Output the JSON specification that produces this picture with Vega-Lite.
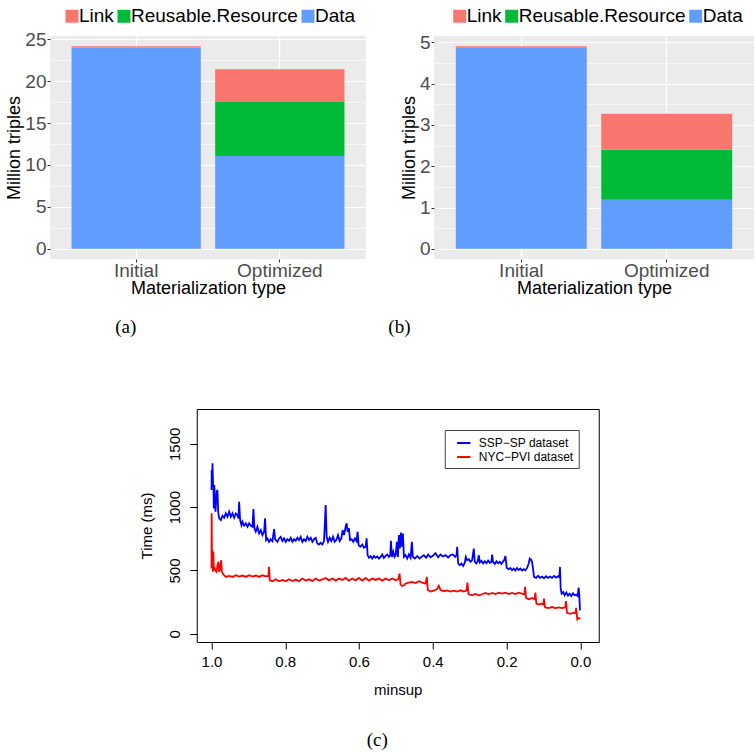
{
  "$schema": "https://vega.github.io/schema/vega-lite/v6.json",
  "padding": {"left": 5, "top": 6, "right": 0, "bottom": 0},
  "background": "white",
  "config": {
    "font": "Liberation Sans",
    "view": {"stroke": null},
    "axis": {"labelFont": "Liberation Sans", "titleFont": "Liberation Sans", "titleFontWeight": "normal"},
    "legend": {"labelFont": "Liberation Sans", "labelLimit": 400}
  },
  "title": {"text": "(c)", "orient": "bottom", "anchor": "middle", "frame": "bounds", "offset": 33, "dx": -2.7, "fontSize": 19, "font": "Liberation Serif", "fontWeight": "normal", "color": "black"},
  "spacing": 71,
  "center": true,
  "resolve": {"scale": {"color": "independent"}, "legend": {"color": "independent"}},
  "vconcat": [
    {
      "spacing": 22,
      "resolve": {"scale": {"color": "independent"}, "legend": {"color": "independent"}},
      "hconcat": [
        {
          "width": 316,
          "height": 223,
          "title": {"text": "(a)", "orient": "bottom", "anchor": "middle", "frame": "group", "dx": -82.3, "offset": 21, "fontSize": 19, "font": "Liberation Serif", "fontWeight": "normal", "color": "black"},
          "view": {"fill": "#EBEBEB", "stroke": null},
          "data": {"values": [
            {"type": "Initial", "category": "Data", "value": 24.0, "rank": 1},
            {"type": "Initial", "category": "Link", "value": 0.16, "rank": 3},
            {"type": "Optimized", "category": "Data", "value": 11.06, "rank": 1},
            {"type": "Optimized", "category": "Reusable.Resource", "value": 6.44, "rank": 2},
            {"type": "Optimized", "category": "Link", "value": 3.9, "rank": 3}
          ]},
          "encoding": {
            "x": {"field": "type", "type": "nominal", "sort": ["Initial", "Optimized"],
              "scale": {"paddingInner": 0.1, "paddingOuter": 0.15},
              "axis": {"grid": true, "gridColor": "white", "gridWidth": 1.2, "bandPosition": 0.5, "labelAngle": 0, "labelFontSize": 19, "labelColor": "#4D4D4D", "tickColor": "#333333", "tickSize": 3, "domain": false, "labelPadding": -1, "title": "Materialization type", "titleFontSize": 18, "titleColor": "black", "titlePadding": -1}}
          },
          "layer": [
            {
              "mark": {"type": "bar", "opacity": 0},
              "encoding": {
                "y": {"field": "value", "type": "quantitative", "stack": "zero",
                  "scale": {"domain": [-1.21, 25.37], "nice": false, "zero": false},
                  "axis": {"orient": "right", "values": [2.5, 7.5, 12.5, 17.5, 22.5], "grid": true, "gridColor": "white", "gridWidth": 0.6, "labels": false, "ticks": false, "domain": false, "title": null, "minExtent": 0, "maxExtent": 0, "offset": 0}}
              }
            },
            {
              "mark": {"type": "bar"},
              "encoding": {
                "y": {"field": "value", "type": "quantitative", "stack": "zero",
                  "scale": {"domain": [-1.21, 25.37], "nice": false, "zero": false},
                  "axis": {"orient": "left", "values": [0, 5, 10, 15, 20, 25], "grid": true, "gridColor": "white", "gridWidth": 1.2, "labelFontSize": 19, "labelColor": "#4D4D4D", "tickColor": "#333333", "tickSize": 3, "domain": false, "labelPadding": 1, "title": "Million triples", "titleFontSize": 18, "titleColor": "black", "titlePadding": 1}},
                "color": {"field": "category", "type": "nominal",
                  "scale": {"domain": ["Link", "Reusable.Resource", "Data"], "range": ["#F8766D", "#00BA38", "#619CFF"]},
                  "legend": {"orient": "none", "legendX": 12.5, "legendY": -29.5, "direction": "horizontal", "title": null, "symbolType": "square", "symbolSize": 169, "symbolStrokeWidth": 0, "labelFontSize": 19, "labelColor": "black", "labelOffset": -2.5, "columnPadding": -1.5, "padding": 0, "labelLimit": 400}},
                "order": {"field": "rank", "type": "quantitative"}
              }
            }
          ],
          "resolve": {"axis": {"y": "independent"}}
        },
        {
          "width": 320,
          "height": 223,
          "title": {"text": "(b)", "orient": "bottom", "anchor": "middle", "frame": "group", "dx": -194.6, "offset": 21, "fontSize": 19, "font": "Liberation Serif", "fontWeight": "normal", "color": "black"},
          "view": {"fill": "#EBEBEB", "stroke": null},
          "data": {"values": [
            {"type": "Initial", "category": "Data", "value": 4.875, "rank": 1},
            {"type": "Initial", "category": "Link", "value": 0.03, "rank": 3},
            {"type": "Optimized", "category": "Data", "value": 1.19, "rank": 1},
            {"type": "Optimized", "category": "Reusable.Resource", "value": 1.21, "rank": 2},
            {"type": "Optimized", "category": "Link", "value": 0.87, "rank": 3}
          ]},
          "encoding": {
            "x": {"field": "type", "type": "nominal", "sort": ["Initial", "Optimized"],
              "scale": {"paddingInner": 0.1, "paddingOuter": 0.15},
              "axis": {"grid": true, "gridColor": "white", "gridWidth": 1.2, "bandPosition": 0.5, "labelAngle": 0, "labelFontSize": 19, "labelColor": "#4D4D4D", "tickColor": "#333333", "tickSize": 3, "domain": false, "labelPadding": -1, "title": "Materialization type", "titleFontSize": 18, "titleColor": "black", "titlePadding": -1}}
          },
          "layer": [
            {
              "mark": {"type": "bar", "opacity": 0},
              "encoding": {
                "y": {"field": "value", "type": "quantitative", "stack": "zero",
                  "scale": {"domain": [-0.245, 5.15], "nice": false, "zero": false},
                  "axis": {"orient": "right", "values": [0.5, 1.5, 2.5, 3.5, 4.5], "grid": true, "gridColor": "white", "gridWidth": 0.6, "labels": false, "ticks": false, "domain": false, "title": null, "minExtent": 0, "maxExtent": 0, "offset": 0}}
              }
            },
            {
              "mark": {"type": "bar"},
              "encoding": {
                "y": {"field": "value", "type": "quantitative", "stack": "zero",
                  "scale": {"domain": [-0.245, 5.15], "nice": false, "zero": false},
                  "axis": {"orient": "left", "values": [0, 1, 2, 3, 4, 5], "grid": true, "gridColor": "white", "gridWidth": 1.2, "labelFontSize": 19, "labelColor": "#4D4D4D", "tickColor": "#333333", "tickSize": 3, "domain": false, "labelPadding": 1, "title": "Million triples", "titleFontSize": 18, "titleColor": "black", "titlePadding": 1}},
                "color": {"field": "category", "type": "nominal",
                  "scale": {"domain": ["Link", "Reusable.Resource", "Data"], "range": ["#F8766D", "#00BA38", "#619CFF"]},
                  "legend": {"orient": "none", "legendX": 16.2, "legendY": -29.5, "direction": "horizontal", "title": null, "symbolType": "square", "symbolSize": 169, "symbolStrokeWidth": 0, "labelFontSize": 19, "labelColor": "black", "labelOffset": -2.5, "columnPadding": -1.5, "padding": 0, "labelLimit": 400}},
                "order": {"field": "rank", "type": "quantitative"}
              }
            }
          ],
          "resolve": {"axis": {"y": "independent"}}
        }
      ]
    },
    {
      "width": 402,
      "height": 233,
      "title": {"text": "\u00a0", "orient": "right", "offset": 2, "fontSize": 6, "frame": "group", "anchor": "middle"},
      "view": {"fill": "white", "stroke": "black", "strokeWidth": 1},
      "encoding": {
        "x": {"field": "minsup", "type": "quantitative",
          "scale": {"domain": [-0.05, 1.04], "reverse": true, "nice": false, "zero": false},
          "axis": {"values": [0, 0.2, 0.4, 0.6, 0.8, 1.0], "format": ".1f", "labelFontSize": 15, "labelColor": "black", "labelFlush": false, "tickColor": "black", "tickSize": 7, "domain": false, "grid": false, "labelPadding": 5, "title": "minsup", "titleFontSize": 15, "titleColor": "black", "titlePadding": 13}},
        "y": {"field": "time", "type": "quantitative",
          "scale": {"domain": [-65, 1775], "nice": false, "zero": false},
          "axis": {"values": [0, 500, 1000, 1500], "format": "d", "labelAngle": 270, "labelAlign": "center", "labelBaseline": "alphabetic", "labelFontSize": 15, "labelColor": "black", "labelFlush": false, "tickColor": "black", "tickSize": 7, "domain": false, "grid": false, "labelPadding": 10, "title": "Time (ms)", "titleFontSize": 15, "titleColor": "black", "titlePadding": 13}}
      },
      "layer": [
        {
          "data": {"values": [
            {"minsup": 1.0, "time": 1136}, {"minsup": 0.9995, "time": 1294}, {"minsup": 0.9986, "time": 1175}, {"minsup": 0.9973, "time": 1347},
            {"minsup": 0.9959, "time": 1188}, {"minsup": 0.9946, "time": 1149}, {"minsup": 0.9937, "time": 990}, {"minsup": 0.9923, "time": 1175},
            {"minsup": 0.991, "time": 1096}, {"minsup": 0.9892, "time": 964}, {"minsup": 0.9856, "time": 1122}, {"minsup": 0.9838, "time": 1136},
            {"minsup": 0.9819, "time": 964}, {"minsup": 0.9792, "time": 911}, {"minsup": 0.9747, "time": 898}, {"minsup": 0.9702, "time": 932},
            {"minsup": 0.9657, "time": 916}, {"minsup": 0.9612, "time": 951}, {"minsup": 0.9567, "time": 924}, {"minsup": 0.9522, "time": 964},
            {"minsup": 0.9477, "time": 924}, {"minsup": 0.9431, "time": 951}, {"minsup": 0.9386, "time": 916}, {"minsup": 0.9341, "time": 951},
            {"minsup": 0.9296, "time": 937}, {"minsup": 0.9269, "time": 911}, {"minsup": 0.9251, "time": 1043}, {"minsup": 0.9224, "time": 898},
            {"minsup": 0.9188, "time": 858}, {"minsup": 0.9161, "time": 885}, {"minsup": 0.9116, "time": 853}, {"minsup": 0.907, "time": 872},
            {"minsup": 0.9025, "time": 845}, {"minsup": 0.898, "time": 872}, {"minsup": 0.8935, "time": 853}, {"minsup": 0.889, "time": 845},
            {"minsup": 0.8863, "time": 985}, {"minsup": 0.8836, "time": 832}, {"minsup": 0.88, "time": 806}, {"minsup": 0.8755, "time": 845},
            {"minsup": 0.8709, "time": 792}, {"minsup": 0.8664, "time": 819}, {"minsup": 0.8619, "time": 779}, {"minsup": 0.8574, "time": 806},
            {"minsup": 0.8547, "time": 911}, {"minsup": 0.852, "time": 740}, {"minsup": 0.8484, "time": 753}, {"minsup": 0.8439, "time": 726},
            {"minsup": 0.8394, "time": 747}, {"minsup": 0.8348, "time": 732}, {"minsup": 0.8303, "time": 827}, {"minsup": 0.8276, "time": 747},
            {"minsup": 0.8213, "time": 726}, {"minsup": 0.8168, "time": 753}, {"minsup": 0.8123, "time": 766}, {"minsup": 0.8078, "time": 732},
            {"minsup": 0.8032, "time": 753}, {"minsup": 0.7987, "time": 726}, {"minsup": 0.7942, "time": 747}, {"minsup": 0.7897, "time": 734},
            {"minsup": 0.7852, "time": 758}, {"minsup": 0.7807, "time": 726}, {"minsup": 0.7762, "time": 747}, {"minsup": 0.7717, "time": 734},
            {"minsup": 0.7671, "time": 758}, {"minsup": 0.7626, "time": 740}, {"minsup": 0.7581, "time": 766}, {"minsup": 0.7536, "time": 726},
            {"minsup": 0.7491, "time": 747}, {"minsup": 0.7446, "time": 732}, {"minsup": 0.7401, "time": 766}, {"minsup": 0.7356, "time": 740},
            {"minsup": 0.731, "time": 758}, {"minsup": 0.7265, "time": 726}, {"minsup": 0.722, "time": 747}, {"minsup": 0.7175, "time": 758},
            {"minsup": 0.713, "time": 713}, {"minsup": 0.7085, "time": 705}, {"minsup": 0.704, "time": 718}, {"minsup": 0.6995, "time": 705},
            {"minsup": 0.6949, "time": 732}, {"minsup": 0.6904, "time": 1017}, {"minsup": 0.6877, "time": 766}, {"minsup": 0.6841, "time": 726},
            {"minsup": 0.6796, "time": 758}, {"minsup": 0.6751, "time": 732}, {"minsup": 0.6706, "time": 766}, {"minsup": 0.6661, "time": 726},
            {"minsup": 0.6616, "time": 740}, {"minsup": 0.657, "time": 779}, {"minsup": 0.6525, "time": 732}, {"minsup": 0.648, "time": 753},
            {"minsup": 0.6444, "time": 819}, {"minsup": 0.6408, "time": 779}, {"minsup": 0.6363, "time": 845}, {"minsup": 0.6336, "time": 872},
            {"minsup": 0.6309, "time": 806}, {"minsup": 0.6273, "time": 832}, {"minsup": 0.6245, "time": 740}, {"minsup": 0.62, "time": 747},
            {"minsup": 0.6155, "time": 726}, {"minsup": 0.611, "time": 753}, {"minsup": 0.6065, "time": 732}, {"minsup": 0.6038, "time": 806},
            {"minsup": 0.6011, "time": 700}, {"minsup": 0.5966, "time": 687}, {"minsup": 0.5912, "time": 705}, {"minsup": 0.5866, "time": 679},
            {"minsup": 0.5821, "time": 687}, {"minsup": 0.5794, "time": 753}, {"minsup": 0.5767, "time": 621}, {"minsup": 0.5731, "time": 600},
            {"minsup": 0.5686, "time": 613}, {"minsup": 0.5641, "time": 594}, {"minsup": 0.5596, "time": 615}, {"minsup": 0.555, "time": 600},
            {"minsup": 0.5505, "time": 610}, {"minsup": 0.546, "time": 594}, {"minsup": 0.5415, "time": 607}, {"minsup": 0.537, "time": 626},
            {"minsup": 0.5325, "time": 600}, {"minsup": 0.528, "time": 615}, {"minsup": 0.5235, "time": 626}, {"minsup": 0.519, "time": 607},
            {"minsup": 0.5153, "time": 621}, {"minsup": 0.5135, "time": 734}, {"minsup": 0.5108, "time": 607}, {"minsup": 0.5072, "time": 647},
            {"minsup": 0.5036, "time": 607}, {"minsup": 0.5009, "time": 621}, {"minsup": 0.4973, "time": 726}, {"minsup": 0.4946, "time": 607},
            {"minsup": 0.4919, "time": 779}, {"minsup": 0.4892, "time": 673}, {"minsup": 0.4865, "time": 800}, {"minsup": 0.4838, "time": 687},
            {"minsup": 0.481, "time": 792}, {"minsup": 0.4783, "time": 607}, {"minsup": 0.4738, "time": 621}, {"minsup": 0.4693, "time": 594},
            {"minsup": 0.4648, "time": 626}, {"minsup": 0.4603, "time": 600}, {"minsup": 0.4567, "time": 726}, {"minsup": 0.454, "time": 607},
            {"minsup": 0.4486, "time": 594}, {"minsup": 0.4422, "time": 613}, {"minsup": 0.4359, "time": 594}, {"minsup": 0.4305, "time": 607},
            {"minsup": 0.4242, "time": 621}, {"minsup": 0.4179, "time": 600}, {"minsup": 0.4125, "time": 626}, {"minsup": 0.4061, "time": 604},
            {"minsup": 0.3998, "time": 615}, {"minsup": 0.3926, "time": 636}, {"minsup": 0.3854, "time": 604}, {"minsup": 0.3791, "time": 626},
            {"minsup": 0.3727, "time": 610}, {"minsup": 0.3655, "time": 621}, {"minsup": 0.3583, "time": 602}, {"minsup": 0.352, "time": 621},
            {"minsup": 0.3457, "time": 626}, {"minsup": 0.3394, "time": 607}, {"minsup": 0.3357, "time": 621}, {"minsup": 0.3339, "time": 687},
            {"minsup": 0.3312, "time": 555}, {"minsup": 0.3267, "time": 541}, {"minsup": 0.3222, "time": 555}, {"minsup": 0.3177, "time": 536},
            {"minsup": 0.3132, "time": 562}, {"minsup": 0.3105, "time": 607}, {"minsup": 0.3069, "time": 581}, {"minsup": 0.3023, "time": 589},
            {"minsup": 0.2978, "time": 568}, {"minsup": 0.2933, "time": 581}, {"minsup": 0.2888, "time": 673}, {"minsup": 0.2861, "time": 568},
            {"minsup": 0.2816, "time": 555}, {"minsup": 0.278, "time": 576}, {"minsup": 0.2753, "time": 621}, {"minsup": 0.2726, "time": 562},
            {"minsup": 0.2681, "time": 576}, {"minsup": 0.2635, "time": 555}, {"minsup": 0.259, "time": 573}, {"minsup": 0.2545, "time": 557},
            {"minsup": 0.25, "time": 578}, {"minsup": 0.2455, "time": 560}, {"minsup": 0.241, "time": 568}, {"minsup": 0.2392, "time": 626},
            {"minsup": 0.2365, "time": 568}, {"minsup": 0.2319, "time": 552}, {"minsup": 0.2274, "time": 573}, {"minsup": 0.2229, "time": 557},
            {"minsup": 0.2184, "time": 568}, {"minsup": 0.2139, "time": 552}, {"minsup": 0.2103, "time": 568}, {"minsup": 0.2067, "time": 581},
            {"minsup": 0.2031, "time": 615}, {"minsup": 0.1995, "time": 520}, {"minsup": 0.194, "time": 510}, {"minsup": 0.1895, "time": 520},
            {"minsup": 0.185, "time": 502}, {"minsup": 0.1805, "time": 515}, {"minsup": 0.176, "time": 499}, {"minsup": 0.1715, "time": 520},
            {"minsup": 0.167, "time": 504}, {"minsup": 0.1625, "time": 515}, {"minsup": 0.1579, "time": 499}, {"minsup": 0.1534, "time": 510},
            {"minsup": 0.1489, "time": 502}, {"minsup": 0.1444, "time": 520}, {"minsup": 0.1399, "time": 555}, {"minsup": 0.1372, "time": 594},
            {"minsup": 0.1336, "time": 586}, {"minsup": 0.1309, "time": 568}, {"minsup": 0.1282, "time": 515}, {"minsup": 0.1255, "time": 449},
            {"minsup": 0.12, "time": 441}, {"minsup": 0.1146, "time": 457}, {"minsup": 0.1092, "time": 441}, {"minsup": 0.1038, "time": 452},
            {"minsup": 0.0984, "time": 439}, {"minsup": 0.093, "time": 454}, {"minsup": 0.0875, "time": 441}, {"minsup": 0.0821, "time": 452},
            {"minsup": 0.0767, "time": 441}, {"minsup": 0.0713, "time": 457}, {"minsup": 0.0659, "time": 444}, {"minsup": 0.0605, "time": 454},
            {"minsup": 0.0569, "time": 446}, {"minsup": 0.0551, "time": 528}, {"minsup": 0.0532, "time": 357}, {"minsup": 0.0505, "time": 317},
            {"minsup": 0.046, "time": 330}, {"minsup": 0.0424, "time": 304}, {"minsup": 0.0379, "time": 325}, {"minsup": 0.0334, "time": 301},
            {"minsup": 0.0289, "time": 317}, {"minsup": 0.0244, "time": 298}, {"minsup": 0.0199, "time": 320}, {"minsup": 0.0153, "time": 304},
            {"minsup": 0.0108, "time": 309}, {"minsup": 0.0072, "time": 298}, {"minsup": 0.0045, "time": 364}, {"minsup": 0.0027, "time": 304},
            {"minsup": 0.0009, "time": 185}
          ]},
          "mark": {"type": "line", "strokeWidth": 1.8},
          "encoding": {
            "color": {"datum": "SSP−SP dataset", "type": "nominal",
              "scale": {"domain": ["SSP−SP dataset", "NYC−PVI dataset"], "range": ["#0000FF", "#FF0000"]},
              "legend": {"orient": "none", "legendX": 248, "legendY": 21, "direction": "vertical", "title": null, "symbolType": "stroke", "symbolSize": 177, "symbolStrokeWidth": 2, "labelFontSize": 12, "labelColor": "black", "labelOffset": 7, "padding": 5, "symbolOffset": 6, "strokeColor": "#444444", "fillColor": "white", "rowPadding": 0}}
          }
        },
        {
          "data": {"values": [
            {"minsup": 1.0, "time": 515}, {"minsup": 0.9995, "time": 951}, {"minsup": 0.9986, "time": 515}, {"minsup": 0.9973, "time": 660},
            {"minsup": 0.9964, "time": 489}, {"minsup": 0.995, "time": 647}, {"minsup": 0.9937, "time": 502}, {"minsup": 0.9919, "time": 528},
            {"minsup": 0.9901, "time": 502}, {"minsup": 0.9865, "time": 489}, {"minsup": 0.9838, "time": 541}, {"minsup": 0.981, "time": 568},
            {"minsup": 0.9792, "time": 489}, {"minsup": 0.9765, "time": 515}, {"minsup": 0.9738, "time": 581}, {"minsup": 0.972, "time": 489},
            {"minsup": 0.9693, "time": 475}, {"minsup": 0.9657, "time": 462}, {"minsup": 0.9612, "time": 449}, {"minsup": 0.9522, "time": 457},
            {"minsup": 0.9431, "time": 449}, {"minsup": 0.9341, "time": 462}, {"minsup": 0.9251, "time": 452}, {"minsup": 0.9161, "time": 460},
            {"minsup": 0.907, "time": 449}, {"minsup": 0.898, "time": 462}, {"minsup": 0.889, "time": 452}, {"minsup": 0.88, "time": 460},
            {"minsup": 0.8709, "time": 449}, {"minsup": 0.8619, "time": 462}, {"minsup": 0.8529, "time": 454}, {"minsup": 0.8457, "time": 457},
            {"minsup": 0.8439, "time": 528}, {"minsup": 0.8421, "time": 422}, {"minsup": 0.8348, "time": 415}, {"minsup": 0.8258, "time": 430},
            {"minsup": 0.8168, "time": 415}, {"minsup": 0.8078, "time": 425}, {"minsup": 0.7987, "time": 415}, {"minsup": 0.7897, "time": 430},
            {"minsup": 0.7807, "time": 417}, {"minsup": 0.7717, "time": 428}, {"minsup": 0.7626, "time": 415}, {"minsup": 0.7536, "time": 436},
            {"minsup": 0.7446, "time": 420}, {"minsup": 0.7356, "time": 430}, {"minsup": 0.7265, "time": 417}, {"minsup": 0.7175, "time": 436},
            {"minsup": 0.7085, "time": 420}, {"minsup": 0.6995, "time": 430}, {"minsup": 0.6904, "time": 441}, {"minsup": 0.6814, "time": 422},
            {"minsup": 0.6724, "time": 436}, {"minsup": 0.6634, "time": 420}, {"minsup": 0.6543, "time": 436}, {"minsup": 0.6453, "time": 425},
            {"minsup": 0.6363, "time": 441}, {"minsup": 0.6273, "time": 420}, {"minsup": 0.6182, "time": 436}, {"minsup": 0.6092, "time": 422},
            {"minsup": 0.6002, "time": 441}, {"minsup": 0.5912, "time": 420}, {"minsup": 0.5821, "time": 441}, {"minsup": 0.5731, "time": 420},
            {"minsup": 0.5641, "time": 436}, {"minsup": 0.555, "time": 425}, {"minsup": 0.546, "time": 436}, {"minsup": 0.537, "time": 420},
            {"minsup": 0.528, "time": 436}, {"minsup": 0.519, "time": 422}, {"minsup": 0.5099, "time": 436}, {"minsup": 0.5009, "time": 422},
            {"minsup": 0.4937, "time": 430}, {"minsup": 0.4901, "time": 475}, {"minsup": 0.4874, "time": 388}, {"minsup": 0.4829, "time": 378},
            {"minsup": 0.4783, "time": 383}, {"minsup": 0.4738, "time": 396}, {"minsup": 0.4648, "time": 404}, {"minsup": 0.4558, "time": 409},
            {"minsup": 0.4468, "time": 401}, {"minsup": 0.4377, "time": 415}, {"minsup": 0.4287, "time": 404}, {"minsup": 0.4197, "time": 396},
            {"minsup": 0.4161, "time": 449}, {"minsup": 0.4134, "time": 346}, {"minsup": 0.4061, "time": 333}, {"minsup": 0.3971, "time": 341},
            {"minsup": 0.3881, "time": 354}, {"minsup": 0.3836, "time": 378}, {"minsup": 0.3791, "time": 346}, {"minsup": 0.37, "time": 336},
            {"minsup": 0.361, "time": 343}, {"minsup": 0.352, "time": 333}, {"minsup": 0.343, "time": 341}, {"minsup": 0.3339, "time": 333},
            {"minsup": 0.3249, "time": 343}, {"minsup": 0.3159, "time": 333}, {"minsup": 0.3087, "time": 341}, {"minsup": 0.306, "time": 404},
            {"minsup": 0.3032, "time": 314}, {"minsup": 0.2933, "time": 304}, {"minsup": 0.2843, "time": 314}, {"minsup": 0.2753, "time": 304},
            {"minsup": 0.2662, "time": 312}, {"minsup": 0.2572, "time": 322}, {"minsup": 0.2482, "time": 312}, {"minsup": 0.2392, "time": 322},
            {"minsup": 0.2301, "time": 314}, {"minsup": 0.2211, "time": 325}, {"minsup": 0.2121, "time": 317}, {"minsup": 0.2031, "time": 325},
            {"minsup": 0.194, "time": 314}, {"minsup": 0.185, "time": 322}, {"minsup": 0.176, "time": 314}, {"minsup": 0.167, "time": 325},
            {"minsup": 0.1579, "time": 317}, {"minsup": 0.1516, "time": 312}, {"minsup": 0.1498, "time": 370}, {"minsup": 0.1471, "time": 283},
            {"minsup": 0.1399, "time": 272}, {"minsup": 0.1309, "time": 283}, {"minsup": 0.1236, "time": 272}, {"minsup": 0.1218, "time": 325},
            {"minsup": 0.1191, "time": 238}, {"minsup": 0.1128, "time": 230}, {"minsup": 0.1056, "time": 238}, {"minsup": 0.1002, "time": 232},
            {"minsup": 0.0984, "time": 277}, {"minsup": 0.0957, "time": 209}, {"minsup": 0.0857, "time": 203}, {"minsup": 0.0767, "time": 211},
            {"minsup": 0.0677, "time": 203}, {"minsup": 0.0587, "time": 209}, {"minsup": 0.0496, "time": 203}, {"minsup": 0.0406, "time": 209},
            {"minsup": 0.0388, "time": 259}, {"minsup": 0.0361, "time": 166}, {"minsup": 0.0271, "time": 158}, {"minsup": 0.0181, "time": 166},
            {"minsup": 0.0126, "time": 161}, {"minsup": 0.0113, "time": 205}, {"minsup": 0.0081, "time": 114}, {"minsup": 0.0045, "time": 124},
            {"minsup": 0.0, "time": 119}
          ]},
          "mark": {"type": "line", "strokeWidth": 1.8},
          "encoding": {
            "color": {"datum": "NYC−PVI dataset", "type": "nominal"}
          }
        }
      ]
    }
  ]
}
